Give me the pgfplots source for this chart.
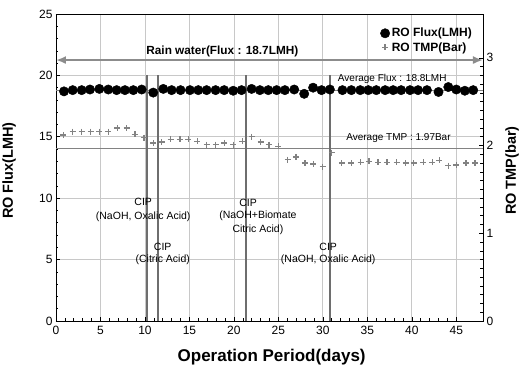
\documentclass[border=0pt]{standalone}
\usepackage{fontspec}
\setmainfont{Liberation Sans}
\usepackage{pgfplots}
\usepackage{pgfplotstable}
\pgfplotsset{compat=1.18}
\usetikzlibrary{arrows.meta}

\pgfplotstableread{
day flux
0.90 18.70
1.88 18.80
2.89 18.80
3.82 18.85
4.87 18.90
5.88 18.85
6.82 18.80
7.75 18.80
8.69 18.80
9.63 18.85
10.93 18.60
12.06 18.90
13.00 18.80
14.00 18.80
15.06 18.80
15.99 18.80
16.93 18.80
17.94 18.80
18.91 18.80
19.92 18.75
20.86 18.80
21.99 18.90
22.92 18.80
23.86 18.80
24.80 18.80
25.73 18.80
26.78 18.85
27.90 18.50
28.90 19.00
29.85 18.80
30.79 18.85
32.20 18.80
33.20 18.80
34.20 18.80
35.10 18.80
36.00 18.80
37.00 18.80
37.90 18.80
38.80 18.80
39.80 18.80
40.70 18.80
41.70 18.80
43.00 18.65
44.10 19.05
45.00 18.85
45.96 18.75
46.90 18.80
}\fluxdata

\pgfplotstableread{
day tmp
0.82 2.12
1.88 2.16
2.89 2.16
3.90 2.16
4.87 2.16
5.88 2.16
6.89 2.20
7.94 2.20
8.88 2.13
9.89 2.09
10.93 2.03
11.88 2.04
12.89 2.07
13.93 2.07
14.87 2.07
15.90 2.05
16.93 2.01
17.94 2.01
18.91 2.03
19.92 2.01
20.93 2.05
21.99 2.10
23.00 2.04
23.93 2.01
24.98 1.99
26.03 1.84
26.97 1.87
27.98 1.80
28.91 1.79
29.97 1.76
30.98 1.92
32.13 1.80
33.20 1.80
34.24 1.81
35.20 1.82
36.20 1.81
37.20 1.81
38.30 1.81
39.30 1.80
40.20 1.80
41.30 1.81
42.30 1.81
43.10 1.83
44.10 1.77
45.00 1.78
46.10 1.80
47.10 1.80
}\tmpdata

\definecolor{gridc}{RGB}{200,200,200}
\definecolor{cipc}{RGB}{110,110,110}
\definecolor{tmpc}{RGB}{130,130,130}
\definecolor{arrc}{RGB}{140,140,140}

\begin{document}
\begin{tikzpicture}
\pgfplotsset{
  base/.style={
    scale only axis, width=427pt, height=307pt,
    xmin=0, xmax=48,
    tick align=inside,
    major tick length=4pt, minor tick length=2.5pt,
    tick style={black, line width=0.6pt},
    /pgf/number format/assume math mode=true,
    ticklabel style={font=\fontsize{12}{13}\selectfont},
    label style={font=\fontsize{14.5}{16}\selectfont\bfseries},
  }
}
\begin{axis}[base,
  ymin=0, ymax=25,
  xtick={0,5,...,45}, ytick={0,5,...,25},
  minor x tick num=4, minor y tick num=4,
  xtick pos=bottom, ytick pos=left,
  grid=major, major grid style={gridc, line width=0.8pt},
  axis line style={black, line width=0.8pt},
  xlabel={Operation Period(days)},
  ylabel={RO Flux(LMH)},
  xlabel style={at={(axis description cs:0.505,-0.117)}, anchor=center, font=\fontsize{17}{19}\selectfont\bfseries},
  ylabel style={at={(axis description cs:-0.11,0.49)}, anchor=center},
  xticklabel style={yshift=-2pt},
  clip=false,
]
% average lines
\draw[tmpc, line width=0.7pt] (axis cs:0,18.8) -- (axis cs:48,18.8);
\draw[tmpc, line width=0.8pt] (axis cs:0,14.07) -- (axis cs:48,14.07);
% rain water arrow
\draw[arrc, line width=1.8pt, {Latex[length=10pt,width=8pt]}-{Latex[length=10pt,width=8pt]}] (axis cs:0,21.25) -- (axis cs:48,21.25);
\node[font=\fontsize{11.8}{13}\selectfont\bfseries] at (axis cs:18.7,21.95) {Rain water(Flux : 18.7LMH)};
% CIP lines
\draw[cipc, line width=1.8pt] (axis cs:10.2,0) -- (axis cs:10.2,20);
\draw[cipc, line width=1.8pt] (axis cs:11.5,0) -- (axis cs:11.5,20);
\draw[cipc, line width=1.8pt] (axis cs:21.4,0) -- (axis cs:21.4,20);
\draw[cipc, line width=1.8pt] (axis cs:30.8,0) -- (axis cs:30.8,20);
% annotations
\begin{scope}[every node/.style={font=\fontsize{10.5}{12.5}\selectfont, inner sep=0pt}]
\node at (axis cs:9.8,9.7) {CIP};
\node at (axis cs:9.8,8.5) {(NaOH, Oxalic Acid)};
\node at (axis cs:12.0,6.0) {CIP};
\node at (axis cs:12.0,5.0) {(Citric Acid)};
\node at (axis cs:21.6,9.65) {CIP};
\node at (axis cs:22.7,8.55) {(NaOH+Biomate};
\node at (axis cs:22.7,7.45) {Citric Acid)};
\node at (axis cs:30.6,6.0) {CIP};
\node at (axis cs:30.6,5.0) {(NaOH, Oxalic Acid)};
\end{scope}
\begin{scope}[every node/.style={font=\fontsize{10}{12.5}\selectfont, inner sep=0pt}]
\node at (axis cs:37.8,19.7) {Average Flux : 18.8LMH};
\node at (axis cs:38.5,14.9) {Average TMP : 1.97Bar};
\end{scope}
\addplot[only marks, mark=*, mark size=4.7pt, black] table[x=day, y=flux] {\fluxdata};
\end{axis}

\begin{axis}[base,
  ymin=0, ymax=3.5,
  axis x line=none,
  axis y line*=right,
  ytick={0,1,2,3},
  minor y tick num=9,
  axis line style={black, line width=0.8pt},
  ylabel={RO TMP(bar)},
  ylabel style={at={(axis description cs:1.068,0.49)}, anchor=center},
  legend style={at={(1,1)}, anchor=north east, xshift=-6pt, yshift=-10pt, draw=none, fill=none,
    font=\fontsize{12}{13}\selectfont\bfseries, row sep=0pt},
  legend cell align=left,
]
\addlegendimage{only marks, mark=*, mark size=4.7pt, black}
\addlegendentry{RO Flux(LMH)}
\addplot[only marks, mark=+, mark size=3pt, tmpc, line width=1.3pt] table[x=day, y=tmp] {\tmpdata};
\addlegendentry{RO TMP(Bar)}
\end{axis}
\pgfresetboundingbox
\path[use as bounding box] (-56pt,-48pt) rectangle (466pt,321pt);
\end{tikzpicture}
\end{document}
